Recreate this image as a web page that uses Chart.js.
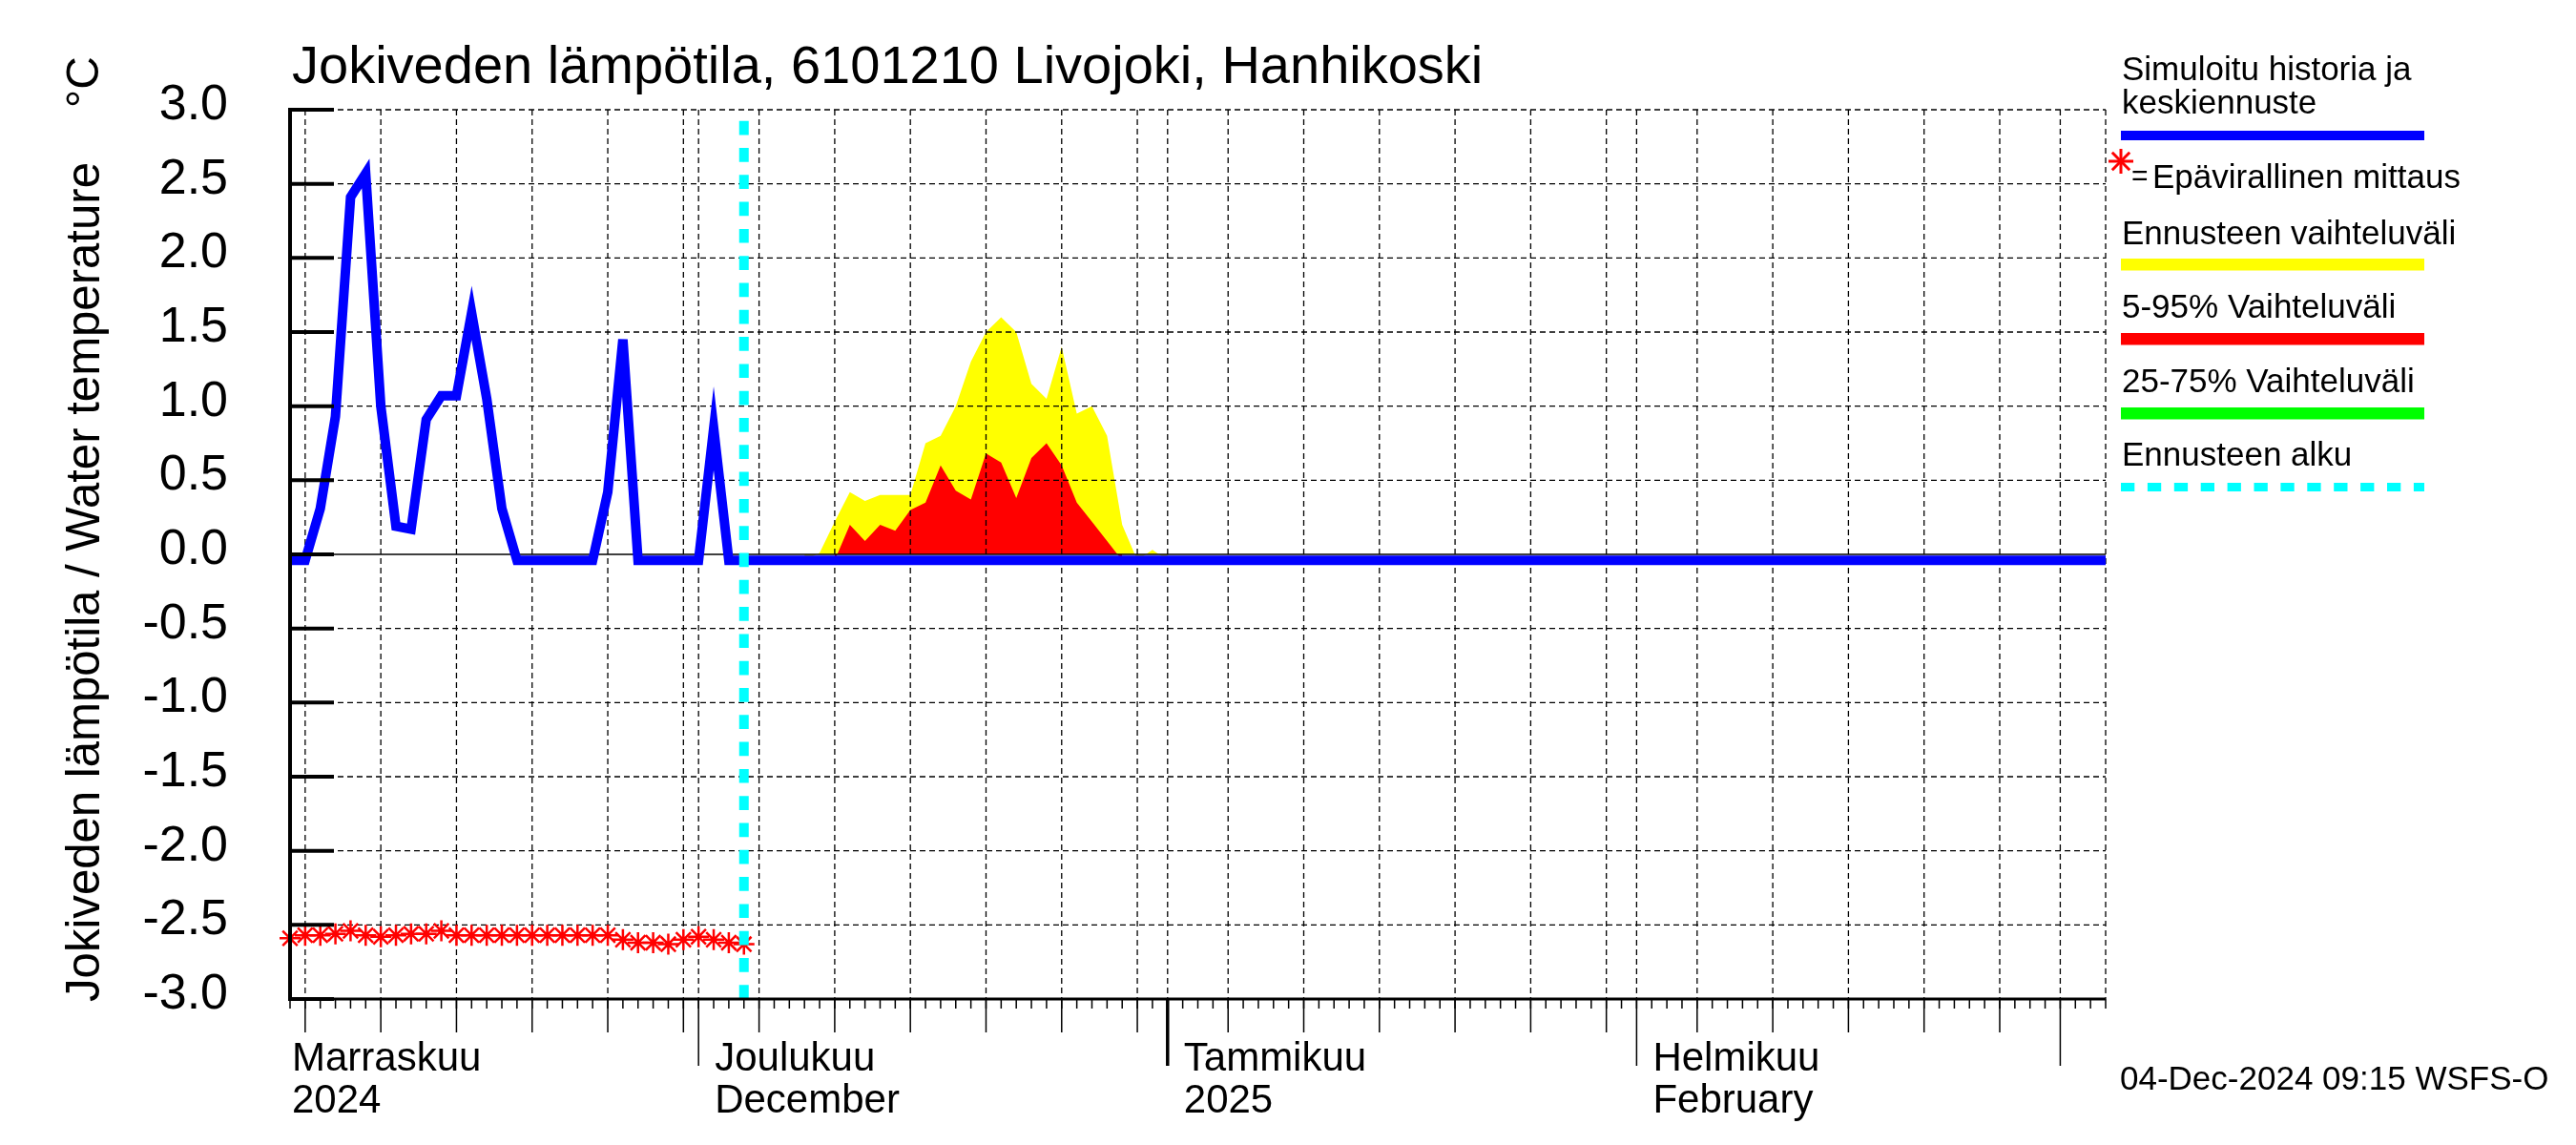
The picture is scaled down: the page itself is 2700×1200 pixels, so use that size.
<!DOCTYPE html>
<html lang="fi">
<head>
<meta charset="UTF-8">
<title>Jokiveden lämpötila, 6101210 Livojoki, Hanhikoski</title>
<script src="https://cdn.jsdelivr.net/npm/chart.js"></script>
<style>
  html, body { margin: 0; padding: 0; background: #ffffff; }
  canvas { display: block; }
</style>
</head>
<body>
<canvas id="chart" width="2700" height="1200"></canvas>
<script>
// --- data ---
const axisStart = '2024-11-04';
const axisEnd = '2025-03-04';
const forecastStart = '2024-12-04';

// simulated history, one value per day from simStart
const simStart = '2024-11-04';
const simValues = [-0.04, -0.04, 0.31, 0.93, 2.41, 2.57, 1.0, 0.19, 0.17, 0.91, 1.07,
                   1.07, 1.63, 1.05, 0.31, -0.04, -0.04, -0.04, -0.04, -0.04, -0.04,
                   0.42, 1.45, -0.04, -0.04, -0.04, -0.04, -0.04, 0.85, -0.04, -0.04];
// mean forecast
const forecastDates = ['2024-12-04', '2025-03-04'];
const forecastValues = [-0.04, -0.04];

// unofficial measurements, one per day from obsStart
const obsStart = '2024-11-04';
const obsValues = [-2.59, -2.57, -2.57, -2.56, -2.54, -2.57, -2.58, -2.57, -2.56, -2.56, -2.54,
                   -2.57, -2.57, -2.57, -2.57, -2.57, -2.57, -2.57, -2.57, -2.57, -2.57,
                   -2.57, -2.6, -2.62, -2.62, -2.63, -2.6, -2.58, -2.6, -2.62, -2.63];

// forecast range (upper edge), one per day
const rangeStart = '2024-12-08';
const rangeValues = [-0.04, 0.01, 0.22, 0.42, 0.36, 0.4, 0.4, 0.4, 0.75, 0.8, 1.0, 1.3, 1.5,
                     1.6, 1.5, 1.15, 1.05, 1.4, 0.95, 1.0, 0.8, 0.2, -0.04, 0.03, -0.04];
// 5-95 % range (upper edge), one per day
const p95Start = '2024-12-10';
const p95Values = [-0.04, 0.2, 0.09, 0.2, 0.16, 0.3, 0.35, 0.6, 0.43, 0.37, 0.68, 0.62,
                   0.38, 0.65, 0.75, 0.6, 0.35, 0.22, 0.09, -0.04];

const yTicks = [3.0, 2.5, 2.0, 1.5, 1.0, 0.5, 0.0, -0.5, -1.0, -1.5, -2.0, -2.5, -3.0];
const monthStarts = ['2024-11-01', '2024-12-01', '2025-01-01', '2025-02-01', '2025-03-01'];
const monthNames = ['Marraskuu', 'Joulukuu', 'Tammikuu', 'Helmikuu'];
const monthSub = ['2024', 'December', '2025', 'February'];

const legendItems = [
    ['Simuloitu historia ja', 'keskiennuste'],
    ['=Epävirallinen mittaus'],
    ['Ennusteen vaihteluväli'],
    ['5-95% Vaihteluväli'],
    ['25-75% Vaihteluväli'],
    ['Ennusteen alku']
];
const titleText = 'Jokiveden lämpötila, 6101210 Livojoki, Hanhikoski';
const yTitle = 'Jokiveden lämpötila / Water temperature';
const stamp = '04-Dec-2024 09:15 WSFS-O';

// --- helpers ---
const FONT = '"Liberation Sans", Arial, Helvetica, sans-serif';
const DAY = 86400000;
function dayOf(s) {
    return (Date.parse(s + 'T00:00:00Z') - Date.parse(axisStart + 'T00:00:00Z')) / DAY;
}
function daily(start, values) {
    const d0 = dayOf(start);
    return values.map((v, i) => ({ x: d0 + i, y: v }));
}
const xMax = dayOf(axisEnd);

// grid lines on days 1,5,10,...,30 of every month
const gridDays = [];
const fiveDays = [];
for (let m = 10; m <= 14; m++) {
    [1, 5, 10, 15, 20, 25, 30].forEach(d => {
        const t = new Date(Date.UTC(2024, m, d));
        if (t.getUTCDate() !== d) return;
        const n = (t.getTime() - Date.parse(axisStart + 'T00:00:00Z')) / DAY;
        if (n < 0 || n > xMax) return;
        gridDays.push(n);
        if (d !== 1) fiveDays.push(n);
    });
}

const simData = daily(simStart, simValues).concat(
    forecastDates.map((d, i) => ({ x: dayOf(d), y: forecastValues[i] })));

function line(ctx, x1, y1, x2, y2) {
    ctx.beginPath();
    ctx.moveTo(x1, y1);
    ctx.lineTo(x2, y2);
    ctx.stroke();
}
function star(ctx, x, y, r) {
    for (let k = 0; k < 4; k++) {
        const a = k * Math.PI / 4;
        line(ctx, x - r * Math.cos(a), y - r * Math.sin(a), x + r * Math.cos(a), y + r * Math.sin(a));
    }
}

function drawGrid(chart) {
    const { ctx, chartArea: a, scales: { x, y } } = chart;
    ctx.save();
    ctx.strokeStyle = '#000';
    ctx.lineWidth = 1.3;
    ctx.setLineDash([6, 4]);
    gridDays.concat([xMax]).forEach(d => {
        const px = x.getPixelForValue(d);
        line(ctx, px, a.top, px, a.bottom);
    });
    yTicks.forEach(v => {
        if (v === 0) return;
        const py = y.getPixelForValue(v);
        line(ctx, a.left, py, a.right, py);
    });
    ctx.setLineDash([]);
    ctx.lineWidth = 1.6;
    const y0 = y.getPixelForValue(0);
    line(ctx, a.left, y0, a.right, y0);
    ctx.restore();
}

const framePlugin = {
    id: 'frame',
    beforeDatasetDraw(chart, args) {
        if (args.index === 0) drawGrid(chart);
    },
    afterDatasetsDraw(chart) {
        const { ctx, chartArea: a, scales: { x, y } } = chart;
        ctx.save();

        // forecast start
        const fx = x.getPixelForValue(dayOf(forecastStart));
        ctx.strokeStyle = '#00ffff';
        ctx.lineWidth = 10;
        ctx.setLineDash([14.7, 13.6]);
        line(ctx, fx, a.bottom, fx, a.top);
        ctx.setLineDash([]);

        // axes
        ctx.strokeStyle = '#000';
        ctx.lineWidth = 4;
        line(ctx, a.left, a.top - 2, a.left, a.bottom + 2);
        ctx.lineWidth = 3;
        line(ctx, a.left, a.bottom, a.right, a.bottom);

        // y ticks and labels
        ctx.fillStyle = '#000';
        ctx.font = '52px ' + FONT;
        ctx.textAlign = 'right';
        ctx.textBaseline = 'alphabetic';
        yTicks.forEach(v => {
            const py = y.getPixelForValue(v);
            ctx.lineWidth = 4;
            line(ctx, a.left, py, a.left + 46, py);
            ctx.fillText(v.toFixed(1), 239, py + 10);
        });

        // x ticks
        ctx.lineWidth = 1.5;
        for (let d = 0; d <= xMax; d++) {
            const px = x.getPixelForValue(d);
            line(ctx, px, a.bottom, px, a.bottom + 10);
        }
        fiveDays.forEach(d => {
            const px = x.getPixelForValue(d);
            line(ctx, px, a.bottom, px, a.bottom + 35);
        });
        monthStarts.forEach(s => {
            const d = dayOf(s);
            if (d < 0 || d > xMax) return;
            const px = x.getPixelForValue(d);
            ctx.lineWidth = s.endsWith('01-01') ? 3.5 : 1.5;
            line(ctx, px, a.bottom, px, a.bottom + 70);
        });

        // month labels
        ctx.font = '42px ' + FONT;
        ctx.textAlign = 'left';
        monthNames.forEach((name, i) => {
            const d = dayOf(monthStarts[i]);
            const px = d < 0 ? a.left + 2 : x.getPixelForValue(d) + 17;
            ctx.fillText(name, px, 1122);
            ctx.fillText(monthSub[i], px, 1166);
        });

        // title
        ctx.font = '56px ' + FONT;
        ctx.fillText(titleText, 306, 87);

        // y axis title
        ctx.font = '50px ' + FONT;
        ctx.save();
        ctx.translate(104, 1050);
        ctx.rotate(-Math.PI / 2);
        ctx.fillText(yTitle, 0, 0, 880);
        ctx.restore();
        ctx.save();
        ctx.font = '48px ' + FONT;
        ctx.translate(103, 113);
        ctx.rotate(-Math.PI / 2);
        ctx.fillText('°C', 0, 0);
        ctx.restore();

        // legend
        const lx = 2224;
        ctx.font = '35px ' + FONT;
        ctx.fillText(legendItems[0][0], lx, 84);
        ctx.fillText(legendItems[0][1], lx, 119);
        ctx.fillStyle = '#0000ff';
        ctx.fillRect(2223, 137, 318, 10);

        ctx.strokeStyle = '#ff0000';
        ctx.lineWidth = 3;
        star(ctx, 2223, 169, 13);
        ctx.fillStyle = '#000';
        ctx.font = '30px ' + FONT;
        ctx.fillText('=', 2234, 194);
        ctx.font = '35px ' + FONT;
        ctx.fillText(legendItems[1][0].slice(1), 2256, 197);

        const rows = [
            [legendItems[2][0], 256, '#ffff00', 271],
            [legendItems[3][0], 333, '#ff0000', 349],
            [legendItems[4][0], 411, '#00ff00', 427]
        ];
        rows.forEach(r => {
            ctx.fillStyle = '#000';
            ctx.fillText(r[0], lx, r[1]);
            ctx.fillStyle = r[2];
            ctx.fillRect(2223, r[3], 318, 12.5);
        });
        ctx.fillStyle = '#000';
        ctx.fillText(legendItems[5][0], lx, 488);
        ctx.fillStyle = '#00ffff';
        for (let s = 2223; s < 2541; s += 27.9) {
            ctx.fillRect(s, 506, Math.min(14.3, 2541 - s), 9);
        }

        // time stamp
        ctx.fillStyle = '#000';
        ctx.font = '35px ' + FONT;
        ctx.fillText(stamp, 2222, 1142);

        ctx.restore();
    }
};

new Chart(document.getElementById('chart').getContext('2d'), {
    type: 'line',
    data: {
        datasets: [
            {
                label: 'Simuloitu historia ja keskiennuste',
                data: simData,
                borderColor: '#0000ff',
                borderWidth: 10,
                pointRadius: 0,
                tension: 0,
                fill: false,
                order: 1
            },
            {
                label: 'Epävirallinen mittaus',
                data: daily(obsStart, obsValues),
                showLine: false,
                pointStyle: 'star',
                pointRadius: 11,
                pointBorderColor: '#ff0000',
                pointBackgroundColor: '#ff0000',
                pointBorderWidth: 2.5,
                clip: false,
                order: 0
            },
            {
                label: '5-95% Vaihteluväli',
                data: daily(p95Start, p95Values),
                borderColor: 'transparent',
                borderWidth: 1,
                backgroundColor: '#ff0000',
                pointRadius: 0,
                tension: 0,
                fill: 'origin',
                order: 2
            },
            {
                label: 'Ennusteen vaihteluväli',
                data: daily(rangeStart, rangeValues),
                borderColor: 'transparent',
                borderWidth: 1,
                backgroundColor: '#ffff00',
                pointRadius: 0,
                tension: 0,
                fill: 'origin',
                order: 3
            }
        ]
    },
    options: {
        responsive: false,
        devicePixelRatio: 1,
        animation: false,
        layout: { padding: { left: 304, right: 493, top: 115, bottom: 153 } },
        scales: {
            x: { type: 'linear', min: 0, max: xMax, display: false },
            y: { type: 'linear', min: -3, max: 3, display: false }
        },
        plugins: {
            legend: { display: false },
            tooltip: { enabled: false },
            title: { display: false }
        }
    },
    plugins: [framePlugin]
});
</script>
</body>
</html>
